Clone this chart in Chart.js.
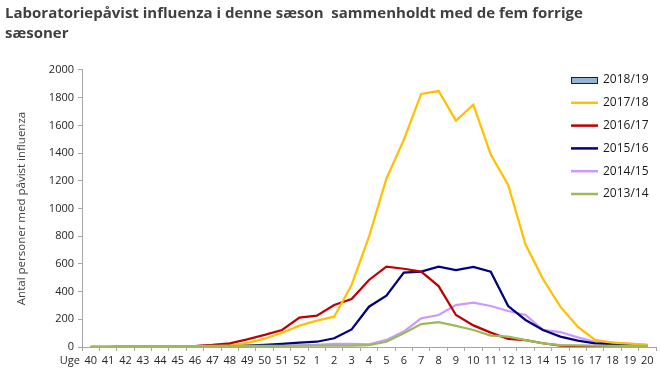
<!DOCTYPE html>
<html>
<head>
<meta charset="utf-8">
<script src="https://cdn.jsdelivr.net/npm/chart.js@4/dist/chart.umd.min.js"></script>
<style>
  html, body { margin: 0; padding: 0; background: #ffffff; }
  #wrap { width: 660px; height: 369px; }
</style>
</head>
<body>
<div id="wrap"><canvas id="c" width="660" height="369"></canvas></div>
<script>
// ---- Data ----
const weeks = ['40','41','42','43','44','45','46','47','48','49','50','51','52',
  '1','2','3','4','5','6','7','8','9','10','11','12','13','14','15','16','17','18','19','20'];

const seasonLabels = ['2018/19', '2017/18', '2016/17', '2015/16', '2014/15', '2013/14'];

const s201819 = [];
const s201718 = [0, 0, 2, 2, 2, 3, 4, 5, 10, 30, 60, 103, 154,
  190, 219, 448, 796, 1215, 1495, 1827, 1848, 1634, 1750, 1389, 1170, 740, 491, 291, 147, 51, 31, 25, 15];
const s201617 = [0, 0, 2, 3, 4, 5, 7, 15, 26, 55, 87, 123, 212,
  226, 303, 346, 484, 580, 565, 544, 440, 231, 156, 104, 58, 50, 27, 10, 6, 5, 4, 4, 3];
const s201516 = [0, 0, 1, 2, 3, 4, 6, 10, 12, 10, 15, 22, 31,
  38, 63, 127, 291, 371, 537, 544, 580, 556, 578, 544, 296, 195, 123, 75, 46, 27, 20, 15, 10];
const s201415 = [0, 0, 1, 2, 3, 3, 4, 5, 6, 7, 8, 10, 12,
  15, 22, 22, 19, 51, 111, 207, 231, 303, 320, 296, 260, 231, 123, 108, 70, 38, 31, 22, 15];
const s201314 = [5, 5, 6, 7, 6, 7, 7, 8, 8, 8, 9, 9, 10,
  10, 10, 10, 14, 38, 99, 166, 180, 152, 123, 82, 75, 50, 27, 14, 12, 10, 9, 8, 8];

const yTicks = { min: 0, max: 2000, step: 200 };

const titleLines = ['Laboratoriepåvist influenza i denne sæson  sammenholdt med de fem forrige', 'sæsoner'];
const yTitle = 'Antal personer med påvist influenza';
const xLeadLabel = 'Uge';

const FONT = "'Open Sans', 'DejaVu Sans', sans-serif";

// ---- Custom legend + "Uge" label plugin ----
const extras = {
  id: 'extras',
  afterDraw(chart) {
    const ctx = chart.ctx;
    const ca = chart.chartArea;
    ctx.save();
    // "Uge" at start of the x tick label row
    const xs = chart.scales.x;
    ctx.font = "11px " + FONT;
    ctx.fillStyle = '#262626';
    ctx.textAlign = 'right';
    ctx.textBaseline = 'middle';
    ctx.fillText(xLeadLabel, ca.left - 2, xs.top + 13.5);

    // Legend (overlapping plot area, right side)
    const x0 = 571, boxW = 27, textX = 603, y0 = 80, dy = 22.8;
    ctx.font = "12px " + FONT;
    ctx.textAlign = 'left';
    chart.data.datasets.forEach((ds, i) => {
      const y = y0 + i * dy;
      if (ds.type === 'bar') {
        ctx.fillStyle = ds.backgroundColor;
        ctx.fillRect(x0, y - 3, boxW, 6);
        ctx.strokeStyle = ds.borderColor;
        ctx.lineWidth = 1;
        ctx.strokeRect(x0 + 0.5, y - 3 + 0.5, boxW - 1, 6);
      } else {
        ctx.strokeStyle = ds.borderColor;
        ctx.lineWidth = 2.5;
        ctx.beginPath();
        ctx.moveTo(x0, y);
        ctx.lineTo(x0 + boxW, y);
        ctx.stroke();
      }
      ctx.fillStyle = '#1a1a1a';
      ctx.fillText(ds.label, textX, y);
    });
    ctx.restore();
  }
};

const lineDs = (label, data, color, order) => ({
  type: 'line', label, data, borderColor: color, backgroundColor: color,
  borderWidth: 2.25, pointRadius: 0, tension: 0, fill: false, order
});

new Chart(document.getElementById('c'), {
  data: {
    labels: weeks,
    datasets: [
      { type: 'bar', label: seasonLabels[0], data: s201819, backgroundColor: '#95B3D7', borderColor: '#1F1F1F', borderWidth: 1, order: 6 },
      lineDs(seasonLabels[1], s201718, '#FFC000', 1),
      lineDs(seasonLabels[2], s201617, '#C00000', 2),
      lineDs(seasonLabels[3], s201516, '#000080', 3),
      lineDs(seasonLabels[4], s201415, '#CC99FF', 4),
      lineDs(seasonLabels[5], s201314, '#9BBB59', 0)
    ]
  },
  options: {
    responsive: false,
    animation: false,
    devicePixelRatio: 1,
    layout: { padding: { left: 5, right: 4, top: 0, bottom: 0 } },
    plugins: {
      legend: { display: false },
      tooltip: { enabled: false },
      title: {
        display: true,
        text: titleLines,
        align: 'start',
        color: '#404040',
        font: { family: FONT, size: 15, weight: 'bold', lineHeight: 1.3333 },
        padding: { top: 4, bottom: 26 }
      }
    },
    scales: {
      x: {
        type: 'category',
        offset: true,
        grid: { display: true, drawOnChartArea: false, offset: true, tickLength: 4, color: '#A6A6A6' },
        border: { display: true, color: '#A6A6A6', width: 1 },
        ticks: { autoSkip: false, maxRotation: 0, minRotation: 0, padding: 3, color: '#262626', font: { family: FONT, size: 11 } },
        afterFit(s) { s.height = 22; }
      },
      y: {
        min: yTicks.min,
        max: yTicks.max,
        grid: { display: true, drawOnChartArea: false, tickLength: 4, color: '#A6A6A6' },
        border: { display: true, color: '#A6A6A6', width: 1 },
        ticks: { stepSize: yTicks.step, padding: 4, color: '#262626', font: { family: FONT, size: 11 },
          callback: (v) => String(v) },
        title: { display: true, text: yTitle, color: '#404040', font: { family: FONT, size: 11.5 }, padding: { top: 10, bottom: 0 } },
        afterFit(s) { s.width = 77; }
      }
    }
  },
  plugins: [extras]
});
</script>
</body>
</html>
